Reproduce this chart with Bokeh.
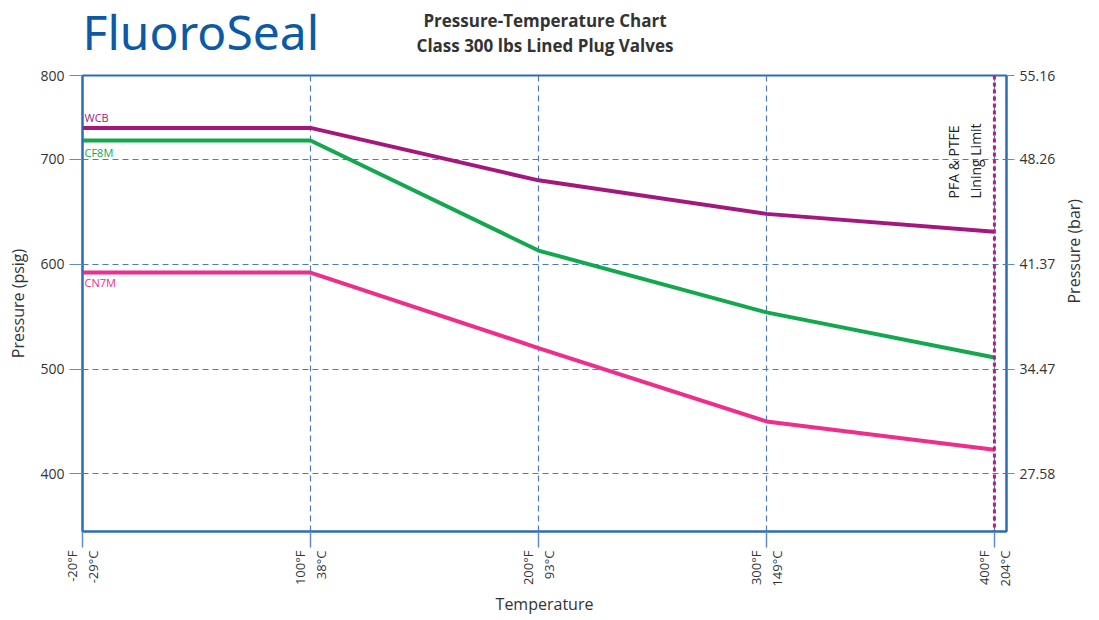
import math
from bokeh.plotting import figure
from bokeh.layouts import column
from bokeh.models import LinearAxis, FixedTicker, Span, Label, ColumnDataSource, Range1d
from bokeh.core.properties import value
from bokeh.embed import file_html
from bokeh.resources import INLINE

# ---- data ----
temps_f = ["-20°F", "100°F", "200°F", "300°F", "400°F"]
temps_c = ["-29°C", "38°C", "93°C", "149°C", "204°C"]
wcb = [730, 730, 680, 648, 631]
cf8m = [718, 718, 613, 554, 511]
cn7m = [592, 592, 520, 450, 423]
materials = ["WCB", "CF8M", "CN7M"]
psi_ticks = [400, 500, 600, 700]
psi_labels = ["400", "500", "600", "700"]
bar_labels = ["27.58", "34.47", "41.37", "48.26"]
top_psi_label = "800"
top_bar_label = "55.16"
lining_limit_index = 4  # 400°F
title_lines = ["Pressure-Temperature Chart", "Class 300 lbs Lined Plug Valves"]
logo_text = "FluoroSeal"

# ---- style ----
FONT = "Open Sans"
BLUE = "#2d6cb2"
GRID = "#4a7db5"
TXT = "#333333"
C_WCB = "#a3187e"
C_CF8M = "#14a84e"
C_CN7M = "#ec2e8d"
C_LIMIT = "#c2177f"
C_LOGO = "#0c5aa6"

W = 1099
HEAD_H = 67
FRAME_L, FRAME_R = 82, 1007   # page pixels of the chart frame (header frame is aligned to it)

# ---- header (logo + title) ----
h = figure(width=W, height=HEAD_H, output_backend="svg", toolbar_location=None,
           x_range=Range1d(FRAME_L, FRAME_R), y_range=Range1d(HEAD_H, 0),
           x_axis_type=None, y_axis_type=None, min_border=0,
           background_fill_color="white", border_fill_color="white")
h.outline_line_color = None
h.grid.visible = False
h.text(x=[FRAME_L], y=[31], text=[logo_text], text_font=value("Noto Sans"), text_font_size="48px",
       text_color=C_LOGO, text_align="left", text_baseline="middle")
h.text(x=[545, 545], y=[20, 45], text=title_lines, text_font=value(FONT), text_font_size="17px",
       text_font_style="bold", text_color=TXT, text_align="center", text_baseline="middle")

# ---- main chart ----
Y_MIN, Y_MAX = 345, 780
x = list(range(len(temps_f)))

p = figure(width=W, height=552, output_backend="svg", toolbar_location=None,
           x_range=Range1d(0, 4.053), y_range=Range1d(Y_MIN, Y_MAX),
           min_border_left=FRAME_L, min_border_right=W - FRAME_R, min_border_top=8, min_border_bottom=88,
           background_fill_color="white", border_fill_color="white")

p.outline_line_color = BLUE
p.outline_line_width = 2
p.outline_line_alpha = 1

# x axis
xa = p.xaxis[0]
xa.ticker = FixedTicker(ticks=x)
xa.major_label_overrides = {i: f"{f}\n{c}" for i, (f, c) in enumerate(zip(temps_f, temps_c))}
xa.major_label_orientation = math.pi / 2
xa.axis_line_color = BLUE
xa.axis_line_width = 2
xa.major_tick_in = 0
xa.major_tick_out = 16
xa.major_tick_line_color = "#5d8fc6"
xa.major_tick_line_width = 1.5
xa.minor_tick_line_color = None
xa.major_label_standoff = 3
xa.major_label_text_font = FONT
xa.major_label_text_font_size = "13px"
xa.major_label_text_color = TXT
xa.axis_label = "Temperature"
xa.axis_label_text_font = FONT
xa.axis_label_text_font_size = "16px"
xa.axis_label_text_font_style = "normal"
xa.axis_label_text_color = TXT
xa.axis_label_standoff = 3

# left y axis
y_ticks = psi_ticks + [Y_MAX]
ya = p.yaxis[0]
ya.ticker = FixedTicker(ticks=y_ticks)
ya.major_label_overrides = {**{t: l for t, l in zip(psi_ticks, psi_labels)}, Y_MAX: top_psi_label}
ya.axis_line_color = BLUE
ya.axis_line_width = 2
ya.major_tick_in = 0
ya.major_tick_out = 13
ya.major_tick_line_color = "#5d8fc6"
ya.major_tick_line_width = 1.2
ya.minor_tick_line_color = None
ya.major_label_standoff = 5
ya.major_label_text_font = FONT
ya.major_label_text_font_size = "14px"
ya.major_label_text_color = TXT
ya.axis_label = "Pressure (psig)"
ya.axis_label_text_font = FONT
ya.axis_label_text_font_size = "16px"
ya.axis_label_text_font_style = "normal"
ya.axis_label_text_color = TXT
ya.axis_label_standoff = 8

# right y axis
ra = LinearAxis(ticker=FixedTicker(ticks=y_ticks),
                major_label_overrides={**{t: l for t, l in zip(psi_ticks, bar_labels)}, Y_MAX: top_bar_label})
ra.axis_line_color = BLUE
ra.axis_line_width = 2
ra.major_tick_in = 0
ra.major_tick_out = 8
ra.major_tick_line_color = "#5d8fc6"
ra.minor_tick_line_color = None
ra.major_label_standoff = 5
ra.major_label_text_font = FONT
ra.major_label_text_font_size = "14px"
ra.major_label_text_color = TXT
ra.axis_label = "Pressure (bar)"
ra.axis_label_orientation = math.pi / 2
ra.axis_label_text_font = FONT
ra.axis_label_text_font_size = "16px"
ra.axis_label_text_font_style = "normal"
ra.axis_label_text_color = TXT
ra.axis_label_standoff = 16
p.add_layout(ra, "right")

# grids
for g in (p.xgrid[0], p.ygrid[0]):
    g.grid_line_color = GRID
    g.grid_line_dash = "6 4"
    g.grid_line_width = 1.2

# series
p.line(x, wcb, line_width=4, line_color=C_WCB)
p.line(x, cf8m, line_width=4, line_color=C_CF8M)
p.line(x, cn7m, line_width=4, line_color=C_CN7M)

lab_src = ColumnDataSource(dict(
    x=[x[0]] * 3,
    y=[wcb[0], cf8m[0], cn7m[0]],
    text=materials,
    color=[C_WCB, C_CF8M, C_CN7M],
    dy=[-10, 12, 10],
))
p.text(x="x", y="y", text="text", source=lab_src, text_color="color", x_offset=2, y_offset="dy",
       text_baseline="middle", text_align="left", text_font=value(FONT), text_font_size="11px")

# lining limit
p.add_layout(Span(location=lining_limit_index, dimension="height", line_color=C_LIMIT,
                  line_width=3, line_dash="4 3"))
p.add_layout(Label(x=882, y=333, x_units="screen", y_units="screen", text="PFA & PTFE\nLining Limit",
                   angle=math.pi / 2, text_align="left", text_baseline="middle",
                   text_font=FONT, text_font_size="14px", text_color="#222222"))

open("out.html", "w").write(file_html(column(h, p, spacing=0), INLINE))
